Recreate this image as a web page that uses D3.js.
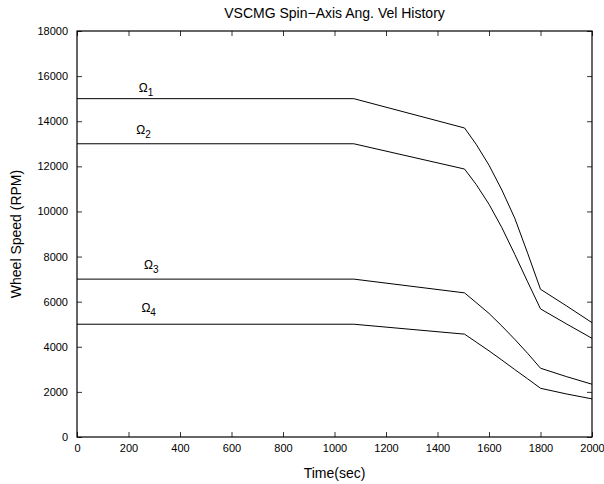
<!DOCTYPE html>
<html><head><meta charset="utf-8">
<script src="https://cdn.jsdelivr.net/npm/d3@7"></script>
<style>body{margin:0;background:#fff}svg{display:block}text{font-family:"Liberation Sans",Arial,sans-serif;fill:#000}</style>
</head><body>
<script>
const times = [0, 1075, 1505, 1550, 1600, 1650, 1700, 1750, 1800, 1900, 2000];
const omega1 = [15000, 15000, 13700, 12980, 12050, 10950, 9700, 8150, 6550, 5820, 5070];
const omega2 = [13000, 13000, 11880, 11200, 10320, 9280, 8100, 6880, 5680, 5020, 4375];
const omega3 = [7000, 7000, 6390, 5960, 5480, 4920, 4330, 3710, 3050, 2680, 2340];
const omega4 = [5000, 5000, 4560, 4210, 3820, 3410, 2990, 2580, 2160, 1910, 1690];
const seriesNames = ["1", "2", "3", "4"];
const labelPos = [[240, 15300], [230, 13450], [260, 7450], [250, 5550]];
const xTicks = [0, 200, 400, 600, 800, 1000, 1200, 1400, 1600, 1800, 2000];
const yTicks = [0, 2000, 4000, 6000, 8000, 10000, 12000, 14000, 16000, 18000];

const W = 604, H = 484;
const m = {l: 77, r: 592, t: 31, b: 437};
const svg = d3.select("body").append("svg").attr("width", W).attr("height", H);
const x = d3.scaleLinear().domain([0, 2000]).range([m.l, m.r]);
const y = d3.scaleLinear().domain([0, 18000]).range([m.b, m.t]);

const tl = 5;
const fmt = d3.format("d");
svg.append("g").attr("transform", `translate(0,${m.b})`)
  .call(d3.axisBottom(x).tickValues(xTicks).tickSizeInner(-tl).tickSizeOuter(0).tickPadding(7).tickFormat(fmt));
svg.append("g").attr("transform", `translate(0,${m.t})`)
  .call(d3.axisTop(x).tickValues(xTicks).tickSizeInner(-tl).tickSizeOuter(0).tickFormat(""));
svg.append("g").attr("transform", `translate(${m.l},0)`)
  .call(d3.axisLeft(y).tickValues(yTicks).tickSizeInner(-tl).tickSizeOuter(0).tickPadding(9).tickFormat(fmt));
svg.append("g").attr("transform", `translate(${m.r},0)`)
  .call(d3.axisRight(y).tickValues(yTicks).tickSizeInner(-tl).tickSizeOuter(0).tickFormat(""));
svg.selectAll(".domain").remove();
svg.selectAll(".tick line").attr("stroke", "#000").attr("stroke-width", 0.8);
svg.selectAll(".tick text").attr("font-size", 11).attr("font-family", '"Liberation Sans",Arial,sans-serif').attr("fill", "#000");
svg.append("rect").attr("x", m.l).attr("y", m.t).attr("width", m.r - m.l).attr("height", m.b - m.t)
  .attr("fill", "none").attr("stroke", "#000").attr("stroke-width", 1.2);

const all = [omega1, omega2, omega3, omega4];
const line = d3.line().x((d, i) => x(times[i])).y(d => y(d)).curve(d3.curveLinear);
all.forEach(s => {
  svg.append("path").datum(s).attr("d", line).attr("fill", "none").attr("stroke", "#000").attr("stroke-width", 1);
});

seriesNames.forEach((n, i) => {
  const t = svg.append("text").attr("x", x(labelPos[i][0])).attr("y", y(labelPos[i][1])).attr("font-size", 12);
  t.append("tspan").text("Ω");
  t.append("tspan").attr("dy", 4).attr("font-size", 10).text(n);
});

svg.append("text").attr("x", (m.l + m.r) / 2).attr("y", 18).attr("text-anchor", "middle").attr("font-size", 14)
  .text("VSCMG Spin\u2212Axis Ang. Vel History");
svg.append("text").attr("x", (m.l + m.r) / 2).attr("y", 478).attr("text-anchor", "middle").attr("font-size", 14)
  .text("Time(sec)");
svg.append("text").attr("transform", `translate(21,${(m.t + m.b) / 2}) rotate(-90)`).attr("text-anchor", "middle").attr("font-size", 14)
  .text("Wheel Speed (RPM)");
</script>
</body></html>
